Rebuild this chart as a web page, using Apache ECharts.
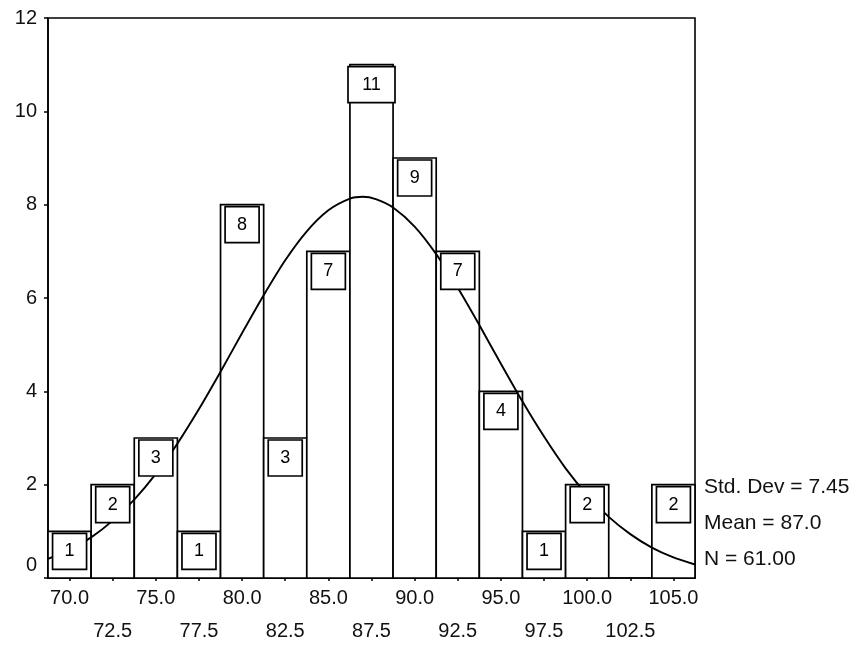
<!DOCTYPE html>
<html>
<head>
<meta charset="utf-8">
<script src="https://cdn.jsdelivr.net/npm/echarts@6/dist/echarts.min.js"></script>
<style>
  html, body { margin: 0; padding: 0; background: #fff; }
  #chart { width: 862px; height: 645px; }
</style>
</head>
<body>
<div id="chart"></div>
<script>
// ---- data ----
const binCenters = [70, 72.5, 75, 77.5, 80, 82.5, 85, 87.5, 90, 92.5, 95, 97.5, 100, 102.5, 105];
const counts     = [1, 2, 3, 1, 8, 3, 7, 11, 9, 7, 4, 1, 2, 0, 2];
const binWidth = 2.5;
const xMin = 68.75;
const xMax = 106.25;

// normal curve
const curveX = [68.75, 70, 71.25, 72.5, 73.75, 75, 76.25, 77.5, 78.75, 80, 81.25, 82.5, 83.75, 85, 86.25, 87,
                87.75, 88.75, 90, 91.25, 92.5, 93.75, 95, 96.25, 97.5, 98.75, 100, 101.25, 102.5, 103.75, 105, 106.25];
const curveY = [0.41, 0.61, 0.87, 1.23, 1.68, 2.23, 2.88, 3.62, 4.42, 5.25, 6.06, 6.81, 7.43, 7.88, 8.13, 8.17,
                8.12, 7.94, 7.53, 6.94, 6.22, 5.42, 4.59, 3.78, 3.03, 2.35, 1.78, 1.31, 0.94, 0.65, 0.44, 0.29];

const upperTicks = [70, 75, 80, 85, 90, 95, 100, 105];
const lowerTicks = [72.5, 77.5, 82.5, 87.5, 92.5, 97.5, 102.5];

const statLines = ['Std. Dev = 7.45', 'Mean = 87.0', 'N = 61.00'];

// ---- chart ----
const FONT = '"Liberation Sans", Arial, sans-serif';
const chart = echarts.init(document.getElementById('chart'), null, { renderer: 'canvas' });

const barData = binCenters.map((c, i) => [c, counts[i]]);
const curveData = curveX.map((x, i) => [x, curveY[i]]);

const option = {
  backgroundColor: '#fff',
  animation: false,
  grid: {
    left: 48, right: 167, top: 18, bottom: 67,
    show: true, borderColor: '#000', borderWidth: 1.6, backgroundColor: 'transparent'
  },
  xAxis: [
    {
      type: 'value', min: xMin, max: xMax, position: 'bottom',
      axisLine: { lineStyle: { color: '#000', width: 1.6 } },
      axisTick: { show: true, length: 3, customValues: upperTicks.concat(lowerTicks), lineStyle: { color: '#000', width: 1.5 } },
      axisLabel: {
        customValues: upperTicks, margin: 10,
        formatter: v => v.toFixed(1),
        color: '#111', fontFamily: FONT, fontSize: 20
      },
      splitLine: { show: false }
    },
    {
      type: 'value', min: xMin, max: xMax, position: 'bottom', offset: 33,
      axisLine: { show: false },
      axisTick: { show: false },
      axisLabel: {
        customValues: lowerTicks, margin: 10,
        formatter: v => v.toFixed(1),
        color: '#111', fontFamily: FONT, fontSize: 20
      },
      splitLine: { show: false }
    }
  ],
  yAxis: {
    type: 'value', min: 0, max: 12, interval: 2,
    axisLine: { show: true, lineStyle: { color: '#000', width: 1.6 } },
    axisTick: { show: true, length: 4, lineStyle: { color: '#000', width: 1.5 } },
    axisLabel: {
      color: '#111', fontFamily: FONT, fontSize: 20, margin: 11,
      formatter: v => (v === 0 ? '{z|0}' : String(v)),
      rich: { z: { fontFamily: FONT, fontSize: 20, color: '#111', padding: [0, 0, 26, 0] } }
    },
    splitLine: { show: false }
  },
  series: [
    {
      type: 'custom', name: 'bars', xAxisIndex: 0, z: 2,
      data: barData,
      renderItem: function (params, api) {
        const x = api.value(0), v = api.value(1);
        if (!v) return null;
        const p0 = api.coord([x - binWidth / 2, v]);
        const p1 = api.coord([x + binWidth / 2, 0]);
        return {
          type: 'rect',
          shape: { x: p0[0], y: p0[1], width: p1[0] - p0[0], height: p1[1] - p0[1] },
          style: { fill: '#fff', stroke: '#000', lineWidth: 1.7 }
        };
      }
    },
    {
      type: 'line', name: 'normal', xAxisIndex: 0, z: 3,
      data: curveData, smooth: 0.25, showSymbol: false, symbol: 'none',
      lineStyle: { color: '#000', width: 1.9 }
    },
    {
      type: 'custom', name: 'labels', xAxisIndex: 0, z: 4,
      data: barData,
      renderItem: function (params, api) {
        const x = api.value(0), v = api.value(1);
        if (!v) return null;
        const p = api.coord([x, v]);
        const txt = String(v);
        const w = 21 + 13 * txt.length;
        const h = 36;
        return {
          type: 'group',
          children: [
            {
              type: 'rect',
              shape: { x: p[0] - w / 2, y: p[1] + 2, width: w, height: h },
              style: { fill: '#fff', stroke: '#000', lineWidth: 1.7 }
            },
            {
              type: 'text',
              style: {
                text: txt, x: p[0], y: p[1] + 2 + h / 2,
                align: 'center', verticalAlign: 'middle',
                font: '18px ' + FONT, fill: '#000'
              }
            }
          ]
        };
      }
    }
  ],
  graphic: statLines.map((t, i) => ({
    type: 'text', left: 704, top: 477 + i * 36,
    style: { text: t, font: '21px ' + FONT, fill: '#111' }
  }))
};

chart.setOption(option);
</script>
</body>
</html>
